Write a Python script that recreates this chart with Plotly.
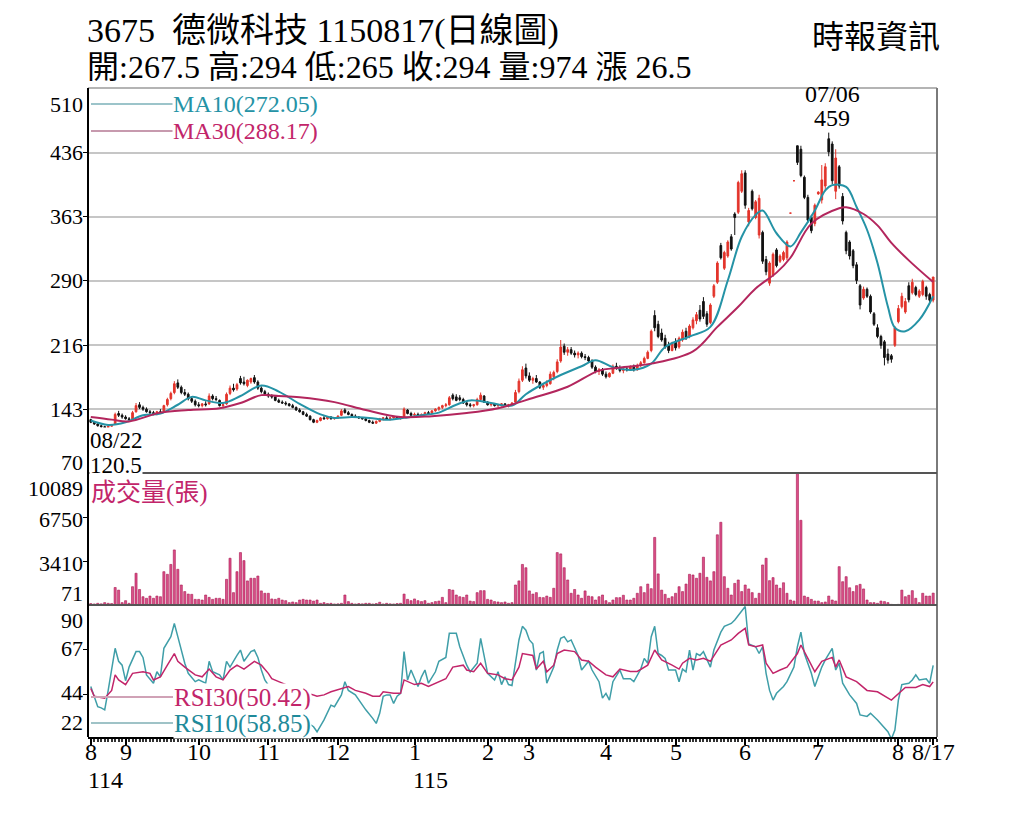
import pandas as pd
import plotly.graph_objects as go

# trading days 114/08/18 .. 115/08/17 (TWSE holidays removed)
holidays = ['2025-09-29', '2025-10-06', '2025-10-10', '2025-10-24', '2025-12-25',
            '2026-01-01', '2026-02-12', '2026-02-13', '2026-02-16', '2026-02-17',
            '2026-02-18', '2026-02-19', '2026-02-20', '2026-02-27', '2026-04-03',
            '2026-04-06', '2026-05-01', '2026-06-19']
dates = [d for d in pd.bdate_range('2025-08-18', '2026-08-17')
         if d.strftime('%Y-%m-%d') not in holidays]
day_idx = list(range(len(dates)))

open_ = [
    131, 128, 126, 124, 123, 122, 123.5, 126, 138, 136,
    134, 132, 131, 140, 148, 145, 143, 140, 139, 137, 140, 140, 148, 155, 162, 173, 168, 162, 160, 155, 152,
    148, 147, 149, 149, 158, 155, 153, 147, 149, 161, 167, 166, 178, 174, 170, 174, 179, 174, 167, 163,
    160, 158, 157, 153, 151, 150, 149, 147, 145, 142, 140, 137, 135, 131, 128, 130, 133, 132, 134, 132,
    133, 136, 142, 139, 137, 135, 134, 133, 132, 130, 128, 127, 129, 132, 133, 132, 133, 134, 133, 134, 142, 138,
    136, 137, 135, 137, 139, 138, 141, 143, 145, 147, 148, 159, 157, 156, 154, 150, 148, 147, 148, 154, 158,
    151, 148, 149, 147, 148, 149, 147, 148, 151, 163, 176, 190,
    181, 176, 178, 174, 168, 170, 172, 180, 186, 198, 215, 208, 211, 207, 205, 207, 203, 202, 198, 191, 186, 188,
    183, 180, 184, 192, 190, 187, 189, 188, 191, 188, 193, 196, 201, 210, 250, 240, 230, 224, 216, 210,
    220, 214, 222, 232, 226, 236, 244, 256, 266, 252, 242, 272, 288, 330, 304, 318, 340, 366, 368, 392,
    413, 357, 392, 362, 342, 345, 314, 287, 296, 325, 312, 314, 316, 367, 404, 444, 440, 408, 385, 362, 355,
    389, 382, 398, 452, 446, 392, 420, 386, 345, 334, 324, 308, 284, 270, 280, 272, 252, 236, 226, 220, 206, 204, 216,
    243, 260, 254, 284, 276, 282, 272, 274, 282, 274, 267.5,
]
high = [
    132, 129, 127, 125, 124, 124.5, 126, 139, 141, 138,
    136, 134, 141, 150, 151, 147, 145, 142, 141, 141, 143, 148, 156, 163, 175, 177, 170, 166, 162, 158, 154,
    151, 150, 152, 161, 160, 158, 154, 150, 162, 170, 172, 173, 181, 180, 177, 179, 182, 176, 169, 165,
    162, 160, 158, 155, 153, 152, 150, 149, 146, 144, 141, 139, 136, 132, 131, 134, 135, 135, 135, 134,
    136, 143, 144, 141, 138, 137, 135, 134, 133, 131, 130, 130, 133, 134, 135, 134, 135, 135, 135, 145, 143, 140,
    139, 139, 138, 140, 141, 142, 144, 146, 148, 150, 158, 161, 160, 159, 156, 152, 150, 149, 156, 162, 159,
    152, 150, 150, 149, 150, 150, 149, 151, 165, 178, 192, 195,
    185, 180, 182, 175, 172, 176, 186, 187, 200, 222, 218, 214, 214, 210, 209, 209, 206, 204, 200, 193, 190, 190,
    186, 185, 194, 196, 193, 191, 192, 193, 194, 195, 198, 203, 210, 234, 256, 244, 235, 228, 220, 220,
    224, 226, 234, 236, 240, 248, 254, 262, 271, 255, 264, 286, 312, 333, 324, 336, 343, 368, 404, 416,
    416, 373, 394, 382, 388, 347, 318, 312, 322, 327, 320, 324, 336, 367, 404, 444, 444, 410, 388, 365, 378,
    392, 422, 424, 459, 449, 440, 422, 390, 347, 336, 326, 311, 286, 283, 282, 274, 254, 240, 228, 222, 212, 206, 238,
    262, 276, 270, 288, 292, 284, 280, 291, 284, 276, 294,
]
low = [
    127, 125, 123, 121.5, 120.5, 121, 123, 125.5, 134, 132,
    131, 130, 130, 139, 143, 141, 139, 137, 136, 136, 138, 139, 146, 153, 160, 166, 160, 158, 153, 150, 146,
    145, 145, 146, 148, 153, 152, 146, 144, 148, 159, 163, 164, 171, 170, 168, 172, 172, 165, 161, 158,
    156, 155, 152, 150, 149, 147, 146, 144, 141, 139, 136, 134, 130, 127, 127, 129, 131, 131, 131, 131,
    132, 135, 138, 136, 134, 133, 132, 131, 129, 127, 126, 126, 128, 130, 131, 130, 132, 132, 131, 133, 137, 135,
    135, 134, 134, 136, 137, 137, 140, 141, 143, 145, 147, 153, 152, 152, 149, 146, 145, 145, 147, 152, 150,
    147, 146, 146, 145, 146, 146, 145, 147, 150, 161, 174, 178,
    174, 172, 173, 166, 165, 168, 171, 176, 184, 196, 205, 204, 205, 202, 201, 201, 199, 196, 189, 184, 182, 181,
    178, 179, 183, 188, 185, 184, 186, 187, 186, 187, 191, 195, 200, 208, 232, 224, 220, 212, 207, 209,
    210, 212, 220, 222, 224, 234, 240, 243, 246, 237, 240, 270, 286, 314, 302, 316, 324, 342, 366, 390,
    372, 352, 370, 360, 338, 309, 296, 284, 294, 305, 310, 312, 313, 367, 404, 422, 408, 383, 356, 344, 352,
    388, 378, 392, 432, 400, 383, 395, 354, 320, 314, 304, 286, 257, 268, 270, 252, 238, 224, 212, 193, 195, 196, 214,
    241, 258, 252, 265, 274, 272, 270, 272, 268, 265, 265,
]
close = [
    128, 126, 124, 123, 122, 123.5, 125, 137, 136, 134,
    132, 131, 139, 147, 145, 143, 140, 139, 137, 140, 139, 147, 154, 161, 172, 168, 162, 160, 155, 152, 148,
    147, 149, 148, 158, 155, 154, 147, 148, 160, 167, 165, 171, 173, 172, 176, 178, 174, 167, 163, 160,
    158, 157, 153, 151, 150, 149, 147, 145, 142, 140, 137, 135, 131, 128, 130, 133, 132, 134, 132, 133,
    135, 141, 139, 137, 135, 134, 133, 132, 130, 128, 127, 129, 132, 133, 132, 133, 134, 133, 134, 143, 138, 136,
    137, 135, 137, 139, 138, 141, 143, 145, 147, 148, 156, 155, 153, 154, 150, 148, 147, 148, 154, 159, 151,
    148, 149, 147, 148, 149, 147, 148, 150, 162, 175, 188, 181,
    176, 178, 174, 168, 170, 172, 183, 185, 197, 214, 208, 211, 207, 205, 207, 203, 202, 198, 191, 186, 188, 183,
    180, 184, 192, 190, 187, 189, 188, 191, 188, 193, 196, 201, 208, 232, 236, 226, 222, 214, 210, 218,
    213, 224, 231, 225, 238, 245, 251, 246, 249, 240, 262, 284, 310, 316, 322, 334, 326, 362, 402, 412,
    376, 370, 372, 380, 384, 312, 300, 310, 320, 307, 318, 322, 334, 367, 404, 425, 410, 385, 359, 347, 376,
    391, 405, 420, 437, 404, 430, 398, 358, 324, 318, 307, 290, 262, 280, 272, 254, 240, 226, 216, 202, 199, 200, 236,
    258, 272, 266, 268, 288, 274, 278, 289, 272, 267.5, 294,
]
volume = [
    180, 150, 200, 160, 250, 200, 180, 1400, 1200, 250,
    400, 200, 1460, 2480, 1250, 700, 580, 750, 580, 750, 700, 2600, 2400, 3150, 4250, 2780, 1590, 1090, 900, 880, 500,
    500, 450, 830, 650, 500, 580, 580, 500, 2020, 3620, 1010, 2600, 4050, 3440, 1900, 2100, 2100, 2270, 1140, 960,
    960, 530, 500, 580, 450, 400, 250, 300, 250, 450, 500, 450, 450, 370, 450, 200, 250, 180, 200, 150,
    160, 200, 830, 330, 200, 150, 180, 160, 200, 200, 150, 180, 280, 150, 200, 160, 150, 180, 200, 900, 500, 400,
    530, 400, 330, 400, 200, 250, 330, 370, 650, 250, 1250, 1200, 830, 700, 650, 830, 370, 330, 1010, 1160, 1160,
    500, 450, 330, 300, 250, 300, 200, 250, 1590, 1900, 3150, 2900,
    1140, 900, 1010, 650, 630, 750, 650, 1340, 4050, 3950, 2900, 1970, 960, 1250, 830, 580, 1140, 750, 700, 450, 700, 830,
    400, 250, 450, 630, 630, 810, 450, 450, 580, 960, 1460, 1010, 1660, 1310, 5200, 2430, 1200, 880, 580, 700,
    960, 1460, 1090, 1660, 2400, 2350, 2100, 2480, 3700, 2170, 1900, 2600, 5400, 6350, 2220, 1340, 830, 1710, 1970, 1090,
    1590, 1290, 1010, 580, 960, 3110, 3620, 1920, 2150, 1590, 1340, 1760, 960, 450, 370, 10089, 6500, 750, 650, 500, 370,
    370, 250, 300, 750, 450, 370, 2980, 1840, 2220, 1380, 1090, 1540, 1640, 1290, 450, 250, 250, 200, 370, 330, 250, 120, 100,
    120, 1200, 700, 810, 1160, 580, 250, 960, 750, 750, 974,
]

# moving averages (day index, value)
ma10_day = [0, 5, 10, 15, 20, 25, 29, 33, 38, 43, 49, 54, 60, 66, 70, 75, 80, 85, 90, 95, 100, 105, 109,
            115, 121, 125, 130, 135, 141, 145, 150, 156, 161, 165, 172, 178, 183, 187, 191, 193, 197,
            201, 204, 208, 211, 213, 217, 220, 223, 226, 229, 231, 234, 238, 242]
ma10_val = [130, 125, 128, 136, 138, 148, 157, 153, 150, 158, 170, 163, 149, 137, 133, 134, 133, 131, 133,
            136, 139, 148, 153, 150, 147, 160, 172, 182, 192, 199, 191, 188, 195, 214, 226, 237, 290,
            340, 365, 370, 344, 329, 345, 370, 393, 399, 397, 374, 348, 310, 260, 236, 232, 245, 272.05]
ma30_day = [0, 6, 11, 20, 28, 37, 43, 49, 54, 60, 70, 79, 89, 98, 108, 117, 127, 137, 146, 151, 161, 173,
            180, 186, 191, 197, 201, 207, 215, 217, 222, 226, 230, 235, 242]
ma30_val = [134, 131, 129, 139, 142, 144, 150, 159, 158, 156.5, 151, 142, 134, 135, 138.5, 144, 155.7,
            168.6, 187, 190, 195, 209, 237, 260, 281, 299, 316, 355, 372.5, 373.6, 366, 353, 333, 313, 288.17]

# RSI (day index, value)
rsi10_day = [0, 1, 2, 3, 4, 5, 7, 8, 9, 10, 11, 13, 14, 15, 16, 18, 19, 20, 21, 23, 24, 25, 26, 27, 28, 30,
             31, 33, 34, 35, 37, 38, 39, 40, 42, 43, 44, 46, 47, 48, 49, 50, 52, 55, 58, 61, 64, 65, 67, 68,
             69, 70, 71, 72, 73, 74, 76, 77, 79, 81, 82, 83, 84, 85, 86, 87, 88, 89, 90, 91, 92, 94, 95, 96,
             97, 99, 100, 102, 103, 105, 106, 108, 109, 111, 112, 114, 116, 117, 118, 119, 120, 121, 123,
             124, 125, 126, 127, 128, 129, 130, 131, 133, 134, 135, 136, 137, 138, 140, 141, 143, 144, 146,
             147, 148, 149, 150, 152, 153, 155, 156, 158, 159, 160, 161, 162, 163, 164, 165, 166, 168, 169,
             170, 171, 172, 173, 174, 175, 176, 178, 179, 181, 182, 184, 185, 187, 188, 189, 190, 191, 192,
             193, 194, 195, 196, 197, 199, 200, 202, 203, 204, 205, 207, 208, 209, 210, 211, 213, 214, 215,
             216, 218, 220, 221, 223, 224, 226, 229, 230, 231, 232, 233, 235, 236, 237, 238, 240, 241, 242]
rsi10_val = [48, 43, 37.6, 37, 36, 46, 67.7, 61, 59, 51, 58, 66, 66, 63, 54, 49.7, 55.6, 53, 67.7, 73.7, 80.5,
             73.7, 66.8, 60, 54.8, 50.5, 51.4, 49.7, 61, 55.6, 54, 51.4, 61, 58, 64, 66.8, 61, 66, 66.8, 63,
             56.5, 51.4, 46, 40, 36, 31, 27.3, 24.7, 30.8, 34.2, 38.4, 37.6, 41, 43.7, 50.5, 46, 43.7, 41, 36,
             31.6, 29, 34.2, 43, 43.7, 43.7, 39.3, 43, 44.5, 66, 51.4, 56.5, 48, 53, 56.5, 49.7, 55.6, 61, 63,
             75.4, 75.4, 68.5, 59, 55.6, 60, 72.8, 54.8, 51.4, 55.6, 49, 53, 49, 48.5, 72, 79, 77, 72, 70, 56.5,
             65, 66, 49.7, 58, 66.8, 72.8, 73.7, 71, 72, 64, 56.5, 61, 56.5, 50.5, 42, 44.5, 41, 50.5, 56.5, 52,
             52, 50.5, 57, 62.5, 60, 73.7, 79, 65, 64, 62.5, 56.5, 56.5, 50.5, 57, 55.6, 66.8, 56.5, 65, 64, 66,
             58, 66.8, 76, 79, 80.5, 82.3, 86.6, 89.2, 70, 69.4, 68.5, 65, 68.5, 54.8, 46, 41, 44.5, 48, 50.5,
             58, 68.5, 76, 65, 54.8, 48, 53, 58, 61.7, 67.7, 56.5, 60, 49.7, 43.7, 39.3, 33.4, 32.6, 34.2, 30.8,
             24.7, 21, 25.6, 41, 49, 49.7, 51.4, 54, 51.4, 52, 49.7, 58.85]
rsi30_day = [0, 1, 4, 6, 7, 8, 10, 12, 15, 17, 18, 20, 22, 24, 25, 27, 30, 32, 34, 36, 38, 40, 42, 44, 47,
             49, 51, 52, 54, 56, 60, 65, 67, 69, 72, 74, 76, 79, 81, 83, 84, 87, 89, 90, 93, 95, 97, 100, 102,
             104, 107, 108, 110, 112, 114, 117, 119, 121, 123, 124, 127, 128, 130, 131, 133, 134, 136, 139,
             141, 143, 145, 148, 150, 152, 155, 157, 160, 162, 164, 167, 169, 170, 172, 174, 176, 178, 181,
             184, 186, 188, 189, 191, 193, 194, 196, 198, 200, 203, 204, 206, 208, 210, 213, 214, 215, 217,
             220, 223, 226, 230, 232, 234, 237, 239, 241, 242]
rsi30_val = [47, 43, 42, 46, 54, 51.4, 49, 54.8, 55.6, 54.8, 51.4, 53, 59, 65, 61, 58, 54, 53, 57, 53, 51.4,
             56.5, 59, 57, 61, 59, 54.8, 52, 50.5, 49, 46, 43, 43.7, 45.3, 47, 48, 46, 44.5, 43, 43, 45.3,
             44.5, 44.5, 51.4, 49, 49.7, 48, 50.5, 52, 58, 59, 56.5, 55.6, 60, 54.8, 54, 52, 51.4, 58, 65, 64,
             57, 61, 55.6, 59, 65, 66.8, 66, 61.7, 61, 58, 54, 53, 57, 55.8, 55.8, 59, 66.8, 61.7, 59, 57, 60,
             62.5, 61.7, 62.5, 61, 69.4, 72, 75.4, 78, 69.4, 68.5, 69.4, 60, 54.8, 56.5, 58, 65, 69.4, 62.5,
             55.6, 61, 63, 58, 61.7, 53, 50.5, 46, 45.3, 41, 44.5, 47.5, 47.5, 49, 48, 50.42]

assert len(dates) == len(open_) == len(high) == len(low) == len(close) == len(volume)

price_ticks = [510, 436, 363, 290, 216, 143, 70]
vol_ticks = [10089, 6750, 3410, 71]
rsi_ticks = [90, 67, 44, 22]

# month ticks: first trading day of each month, plus the last day
month_idx, month_txt = [], []
for i, d in enumerate(dates):
    if i == 0 or d.month != dates[i - 1].month:
        month_idx.append(i)
        month_txt.append(str(d.month))
month_idx.append(len(dates) - 1)
month_txt.append(dates[-1].strftime('%-m/%d'))

FONT = 'Liberation Serif, Noto Sans CJK TC, serif'
RED = '#e3342b'
TEAL = '#2593a6'
CRIMSON = '#c2256a'

# plot box in screen pixels (the page adds an 8px body margin)
L, R, T, B = 88, 937, 88, 737
PAGE = 8


def px_x(px):
    return (px - L) / (R - L)


def px_y(py):
    return (B - py) / (B - T)


fig = go.Figure()

fig.add_trace(go.Candlestick(
    x=day_idx, open=open_, high=high, low=low, close=close,
    increasing=dict(line=dict(color=RED, width=1), fillcolor=RED),
    decreasing=dict(line=dict(color='#111111', width=1), fillcolor='#111111'),
    whiskerwidth=0, xaxis='x', yaxis='y', hoverinfo='skip'))
fig.add_trace(go.Scatter(x=ma10_day, y=ma10_val, mode='lines', xaxis='x', yaxis='y',
                         line=dict(color=TEAL, width=2, shape='spline', smoothing=1)))
fig.add_trace(go.Scatter(x=ma30_day, y=ma30_val, mode='lines', xaxis='x', yaxis='y',
                         line=dict(color='#b3265d', width=2, shape='spline', smoothing=1)))

fig.add_trace(go.Bar(x=day_idx, y=volume, xaxis='x', yaxis='y2', width=0.6,
                     marker=dict(color='#dc4f8a', line=dict(color='#a8184f', width=0.6))))

fig.add_trace(go.Scatter(x=rsi10_day, y=rsi10_val, mode='lines', xaxis='x', yaxis='y3',
                         line=dict(color='#3f9ea8', width=1.5)))
fig.add_trace(go.Scatter(x=rsi30_day, y=rsi30_val, mode='lines', xaxis='x', yaxis='y3',
                         line=dict(color=CRIMSON, width=1.5)))

dom_rsi = [0, px_y(605)]
dom_vol = [px_y(605), px_y(473)]
dom_price = [px_y(473), 1]

axis_common = dict(anchor='x', showticklabels=False, ticks='outside', ticklen=4,
                   tickcolor='black', zeroline=False, showline=False, fixedrange=True)

fig.update_layout(
    width=1024, height=819, autosize=False,
    margin=dict(l=L - PAGE, r=1024 - R + PAGE, t=T - PAGE, b=819 - B + PAGE),
    paper_bgcolor='white', plot_bgcolor='white', showlegend=False,
    font=dict(family=FONT, color='black'),
    xaxis=dict(domain=[0, 1], anchor='y3', range=[-0.8, 243.1],
               tickmode='array', tickvals=month_idx, showticklabels=False,
               ticks='outside', ticklen=6, tickwidth=1.5, tickcolor='black',
               showline=True, linecolor='black', linewidth=2,
               showgrid=False, zeroline=False,
               minor=dict(tickmode='linear', tick0=0, dtick=1, ticks='outside',
                          ticklen=3, tickcolor='#333333', showgrid=False),
               rangeslider=dict(visible=False)),
    yaxis=dict(domain=dom_price, range=[70, 510], tickvals=price_ticks[1:-1],
               showgrid=True, gridcolor='#c6c6c6', gridwidth=2, **axis_common),
    yaxis2=dict(domain=dom_vol, range=[71, 10089], tickvals=vol_ticks[1:-1],
                showgrid=False, **axis_common),
    yaxis3=dict(domain=dom_rsi, range=[22, 90], tickvals=rsi_ticks[1:-1],
                showgrid=False, **axis_common),
)

# frame and panel separators
shapes = [
    dict(type='line', xref='paper', yref='paper', x0=0, x1=1, y0=1, y1=1,
         line=dict(color='#b4b4b4', width=2)),
    dict(type='line', xref='paper', yref='paper', x0=1, x1=1, y0=0, y1=1,
         line=dict(color='#7a7a7a', width=2)),
    dict(type='line', xref='paper', yref='paper', x0=0, x1=1, y0=px_y(473), y1=px_y(473),
         line=dict(color='#555555', width=2)),
    dict(type='line', xref='paper', yref='paper', x0=0, x1=1, y0=px_y(605), y1=px_y(605),
         line=dict(color='#555555', width=2)),
    dict(type='line', xref='paper', yref='paper', x0=0, x1=0, y0=0, y1=1,
         line=dict(color='black', width=2)),
]
# legend sample lines
for py, col in [(104, '#9cc4ca'), (131, '#c79aae'), (697, '#d0a2b6'), (723, '#9fc3c7')]:
    shapes.append(dict(type='line', xref='paper', yref='paper',
                       x0=px_x(91), x1=px_x(173), y0=px_y(py), y1=px_y(py),
                       line=dict(color=col, width=2)))
for s in shapes:
    s['layer'] = 'above'
fig.update_layout(shapes=shapes)


def note(text, px, py, size, color='black', xanchor='left', bg='rgba(0,0,0,0)'):
    return dict(text=text, x=px_x(px), y=px_y(py), xref='paper', yref='paper',
                xanchor=xanchor, yanchor='middle', showarrow=False, bgcolor=bg, borderpad=0,
                font=dict(family=FONT, size=size, color=color))


ann = [
    note('3675\u00a0\u00a0德微科技 1150817(日線圖)', 86, 31, 34),
    note('開:267.5 高:294 低:265 收:294 量:974 漲 26.5', 86, 67, 32),
    note('時報資訊', 941, 37, 32, xanchor='right'),
    note('MA10(272.05)', 172, 104, 24, color=TEAL, bg='white'),
    note('MA30(288.17)', 172, 131, 24, color=CRIMSON, bg='white'),
    note('07/06', 832, 94, 24, xanchor='center'),
    note('459', 832, 118, 24, xanchor='center'),
    note('08/22', 89, 440, 23, bg='white'),
    note('120.5', 89, 466, 23, bg='white'),
    note('成交量(張)', 90, 493, 25, color=CRIMSON),
    note('RSI30(50.42)', 173, 698, 25, color=CRIMSON, bg='white'),
    note('RSI10(58.85)', 173, 724, 25, color='#1f8a9a', bg='white'),
    note('114', 87, 780, 24),
    note('115', 412, 780, 24),
]

# month labels under the day axis
for i, t in zip(month_idx, month_txt):
    ann.append(dict(text=t, x=i, xref='x', y=px_y(752), yref='paper', xanchor='center',
                    yanchor='middle', showarrow=False,
                    font=dict(family=FONT, size=24, color='black')))

# y tick labels, end labels pulled inside the panel like the original
for ref, ticks, shifts in [('y', price_ticks, [-16, 0, 0, 0, 0, 0, 11]),
                           ('y2', vol_ticks, [-15, -2, -2, 12]),
                           ('y3', rsi_ticks, [-15, 1, 2, 15])]:
    for v, dy in zip(ticks, shifts):
        ann.append(dict(text=str(v), x=0, xref='paper', y=v, yref=ref, xanchor='right',
                        yanchor='middle', xshift=-3, yshift=dy, showarrow=False,
                        font=dict(family=FONT, size=22, color='black')))

fig.update_layout(annotations=ann)

fig.write_html('out.html')
